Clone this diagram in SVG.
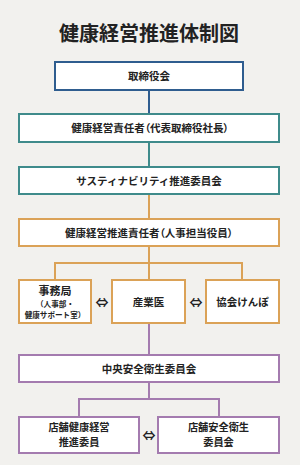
<svg xmlns="http://www.w3.org/2000/svg" width="300" height="465" viewBox="0 0 300 465">
<style>
text{font-family:"Noto Sans CJK JP","Noto Sans",sans-serif;fill:#222;text-anchor:middle;font-weight:bold}
.t{font-size:10.5px}
.t2{font-size:10.2px}
.pa{font-feature-settings:"palt"}
.s{font-size:7.6px}
.box{fill:#fff;stroke-width:2}
.b{stroke:#2f5d8f}.g{stroke:#3f8b8b}.o{stroke:#dba257}.p{stroke:#a47baf}
.ln{fill:none;stroke-width:2}
.arr{font-size:13px;font-weight:bold}
</style>
<rect width="300" height="465" fill="#f2f1ee"/>
<text x="149" y="41" style="font-size:20px">健康経営推進体制図</text>
<g id="connectors">
<line class="ln b" x1="149" y1="90" x2="149" y2="114"/>
<line class="ln g" x1="149" y1="142" x2="149" y2="167"/>
<path class="ln o" d="M149 194V219"/>
<path class="ln o" d="M149 246V280M55 280V263H242V280"/>
<path class="ln p" d="M149 323V355"/>
<path class="ln p" d="M149 382V399M79 417V399H219V417"/>
<text class="arr" x="102" y="307">⇔</text>
<text class="arr" x="196" y="307">⇔</text>
<text class="arr" x="149" y="440">⇔</text>
</g>
<g id="n1"><rect class="box b" x="55" y="62" width="188" height="28"/><text class="t" x="149" y="80">取締役会</text></g>
<g id="n2"><rect class="box g" x="19" y="114" width="260" height="28"/><text class="t pa" x="150" y="132">健康経営責任者（代表取締役社長）</text></g>
<g id="n3"><rect class="box g" x="19" y="167" width="260" height="27"/><text class="t" x="149" y="184.5">サスティナビリティ推進委員会</text></g>
<g id="n4"><rect class="box o" x="19" y="219" width="260" height="27"/><text class="t pa" x="149" y="236.5">健康経営推進責任者（人事担当役員）</text></g>
<g id="n5"><rect class="box o" x="19" y="280" width="72" height="43"/><text x="55" y="294.8" style="font-size:11px">事務局</text><text class="s" x="55" y="306.8">（人事部・</text><text class="s" x="55" y="318">健康サポート室）</text></g>
<g id="n6"><rect class="box o" x="112" y="280" width="73" height="43"/><text class="t" x="148.5" y="306">産業医</text></g>
<g id="n7"><rect class="box o" x="206" y="280" width="73" height="43"/><text class="t" x="242.5" y="306">協会けんぽ</text></g>
<g id="n8"><rect class="box p" x="19" y="355" width="260" height="27"/><text class="t" x="149" y="372.5">中央安全衛生委員会</text></g>
<g id="n9"><rect class="box p" x="19" y="417" width="120" height="36"/><text class="t2" x="79" y="431">店舗健康経営</text><text class="t2" x="79" y="446">推進委員</text></g>
<g id="n10"><rect class="box p" x="158" y="417" width="121" height="36"/><text class="t2" x="218.5" y="431">店舗安全衛生</text><text class="t2" x="218.5" y="446">委員会</text></g>
</svg>
